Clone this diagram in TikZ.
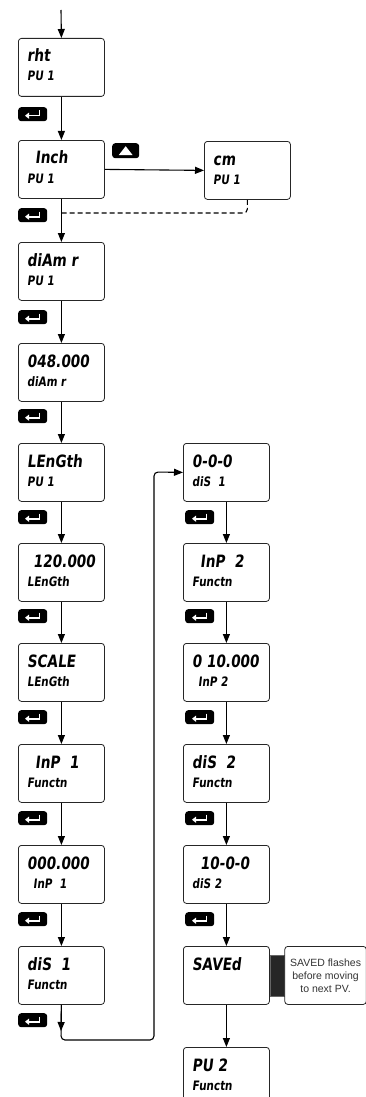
\documentclass[tikz,border=0pt]{standalone}
\usepackage{fontspec}
\setmainfont{Liberation Sans}
\newfontfamily\segfont{DejaVu Sans}[FakeStretch=0.8,FakeSlant=0.12]
\usetikzlibrary{calc,arrows.meta}
\tikzset{
 dbox/.style={draw=black!85, line width=0.8pt, rounded corners=3pt, minimum width=86pt, minimum height=58pt, inner sep=0pt, fill=white},
 keystyle/.style={fill=black, rounded corners=3pt, minimum width=29pt, minimum height=14pt, inner sep=0pt},
 lineA/.style={font=\segfont\bfseries\fontsize{17}{17}\selectfont, inner sep=0pt},
 lineB/.style={font=\segfont\bfseries\fontsize{13}{13}\selectfont, inner sep=0pt},
 flow/.style={line width=1.1pt, -{Triangle[length=9pt,width=7pt]}},
}
\newcommand\dispbox[7]{%
 \node[dbox, anchor=north west] (#1) at (#2,#3) {};
 \node[lineA, anchor=base west] (#1a) at ($(#1.north west)+(#4,24)$) {#5};
 \node[lineB, anchor=base west] (#1b) at ($(#1.north west)+(#6,43)$) {#7};
}
\newcommand\enterkey[3]{%
 \node[keystyle, anchor=north west] (#1) at (#2,#3) {};
 \draw[white, line width=1.6pt, -{Triangle[length=4pt,width=6pt]}] ($(#1.north east)+(-8,3.5)$) |- ($(#1.west)+(7,1.5)$);
}
\begin{document}
\begin{tikzpicture}[x=1pt,y=-1pt]
\useasboundingbox (0,0) rectangle (366,1097);
\clip (0,0) rectangle (366,1097);
% left column
\dispbox{b1}{18}{38}{9}{rht}{9}{PU 1}
\dispbox{b2}{18}{140}{17}{Inch}{9}{PU 1}
\dispbox{cm}{204}{141}{9}{cm}{9}{PU 1}
\dispbox{b3}{18}{242}{9}{diAm r}{9}{PU 1}
\dispbox{b4}{18}{343}{9}{048.000}{9}{diAm r}
\dispbox{b5}{18}{443}{9}{LEnGth}{9}{PU 1}
\dispbox{b6}{18}{543}{15}{120.000}{9}{LEnGth}
\dispbox{b7}{18}{643}{9}{SCALE}{9}{LEnGth}
\dispbox{b8}{18}{744}{17}{InP\ \ 1}{9}{Functn}
\dispbox{b9}{18}{845}{9}{000.000}{15}{InP\ \ 1}
\dispbox{b10}{18}{946}{9}{diS\ \ 1}{9}{Functn}
% right column
\dispbox{b11}{183}{443}{9}{0-0-0}{9}{diS\ \ 1}
\dispbox{b12}{183}{543}{17}{InP\ \ 2}{9}{Functn}
\dispbox{b13}{183}{643}{9}{0 10.000}{15}{InP\ 2}
\dispbox{b14}{183}{744}{9}{diS\ \ 2}{9}{Functn}
\dispbox{b15}{183}{845}{17}{10-0-0}{9}{diS 2}
\dispbox{b16}{183}{946}{9}{SAVEd}{9}{}
\dispbox{b17}{183}{1047}{9}{PU\ 2}{9}{Functn}
% enter keys
\enterkey{k1}{18}{107}
\enterkey{k2}{18}{208}
\enterkey{k3}{18}{310}
\enterkey{k4}{18}{409}
\enterkey{k5}{18}{510}
\enterkey{k6}{18}{609}
\enterkey{k7}{18}{710}
\enterkey{k8}{18}{811}
\enterkey{k9}{18}{912}
\enterkey{k10}{18}{1013}
\enterkey{k11}{185}{510}
\enterkey{k12}{185}{609}
\enterkey{k13}{185}{710}
\enterkey{k14}{185}{811}
\enterkey{k15}{185}{912}
% up key
\node[keystyle, minimum width=27pt, minimum height=15pt, anchor=north west] (up) at (112,143) {};
\fill[white] ($(up.center)+(-7,4.5)$) -- ($(up.center)+(7,4.5)$) -- ($(up.center)+(0,-4.5)$) -- cycle;
% arrows
\coordinate (start) at (61,10);
\draw[flow] (start) -- (b1.north);
\draw[flow] (b1.south) -- (b2.north);
\draw[flow] (b2.east) -- (cm.west);
\coordinate (dashend) at (62,213);
\draw[line width=1.1pt, dash pattern=on 5pt off 3pt, rounded corners=4pt] (cm.south) |- (dashend);
\draw[flow] (b2.south) -- (b3.north);
\draw[flow] (b3.south) -- (b4.north);
\draw[flow] (b4.south) -- (b5.north);
\draw[flow] (b5.south) -- (b6.north);
\draw[flow] (b6.south) -- (b7.north);
\draw[flow] (b7.south) -- (b8.north);
\draw[flow] (b8.south) -- (b9.north);
\draw[flow] (b9.south) -- (b10.north);
\coordinate (tip10) at (61,1031);
\coordinate (c1) at (61,1040);
\coordinate (c2) at (154,1040);
\coordinate (c3) at (154,472);
\draw[flow] (b10.south) -- (tip10);
\draw[flow, rounded corners=4pt] (b10.south) -- (c1) -- (c2) -- (c3) -- (b11.west);
\draw[flow] (b11.south) -- (b12.north);
\draw[flow] (b12.south) -- (b13.north);
\draw[flow] (b13.south) -- (b14.north);
\draw[flow] (b14.south) -- (b15.north);
\draw[flow] (b15.south) -- (b16.north);
\draw[flow] (b16.south) -- (b17.north);
% note
\node[fill=black!85, draw=black!60, line width=0.6pt, minimum width=14pt, minimum height=41pt, inner sep=0pt, anchor=west] (bar) at (b16.east) {};
\node[draw=black!85, line width=0.8pt, rounded corners=3pt, minimum width=81.5pt, minimum height=58pt, inner sep=0pt, anchor=west, align=center, font=\fontsize{10.5}{13}\selectfont, text=black!80] (note) at (bar.east) {SAVED flashes\\before moving\\to next PV.};
\end{tikzpicture}
\end{document}
